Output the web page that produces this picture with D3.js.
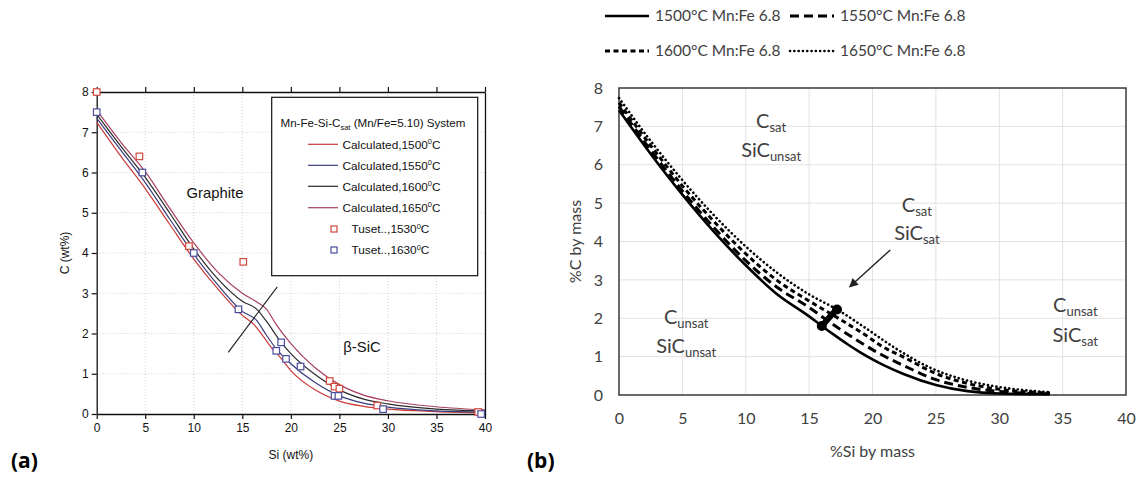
<!DOCTYPE html>
<html>
<head>
<meta charset="utf-8">
<script src="https://cdn.jsdelivr.net/npm/d3@7"></script>
<style>
  html, body { margin: 0; padding: 0; background: #fff; }
  svg { display: block; }
</style>
</head>
<body>
<svg id="fig" width="1138" height="477"></svg>
<script>
// ---------- Panel (a): Mn-Fe-Si-Csat, calculated vs. Tuset data ----------
const siTicksA = [0, 5, 10, 15, 20, 25, 30, 35, 40];
const cTicksA = [0, 1, 2, 3, 4, 5, 6, 7, 8];

const calc1500Si = [0, 2.5, 5, 7.5, 10, 12.5, 15, 16.2, 17, 18, 19, 20, 22.5, 25, 27.5, 30, 35, 40];
const calc1500C  = [7.25, 6.4, 5.6, 4.72, 3.85, 3.1, 2.45, 2.22, 1.98, 1.65, 1.38, 1.08, 0.6, 0.32, 0.19, 0.12, 0.06, 0.03];
const calc1550Si = [0, 2.5, 5, 7.5, 10, 12.5, 15, 16.5, 17.5, 18.5, 20, 22.5, 25, 27.5, 30, 35, 40];
const calc1550C  = [7.35, 6.55, 5.75, 4.85, 3.97, 3.2, 2.55, 2.32, 1.95, 1.62, 1.25, 0.78, 0.45, 0.27, 0.17, 0.08, 0.05];
const calc1600Si = [0, 2.5, 5, 7.5, 10, 12.5, 15, 16.5, 17.5, 19, 20, 22.5, 25, 27.5, 30, 35, 40];
const calc1600C  = [7.45, 6.65, 5.88, 5.0, 4.1, 3.35, 2.8, 2.6, 2.3, 1.78, 1.5, 0.98, 0.6, 0.37, 0.25, 0.12, 0.07];
const calc1650Si = [0, 2.5, 5, 7.5, 10, 12.5, 15, 16.5, 17.5, 18.5, 20, 22.5, 25, 27.5, 30, 35, 40];
const calc1650C  = [7.55, 6.75, 6.02, 5.12, 4.25, 3.52, 3.0, 2.78, 2.6, 2.22, 1.75, 1.15, 0.73, 0.47, 0.33, 0.18, 0.1];

const tuset1530Si = [0, 4.4, 9.5, 15.1, 24.0, 24.5, 25.0, 28.9, 39.3];
const tuset1530C  = [8.0, 6.4, 4.17, 3.78, 0.82, 0.68, 0.63, 0.21, 0.05];
const tuset1630Si = [0, 4.7, 10.0, 14.6, 18.5, 19.0, 19.5, 21.0, 24.5, 24.9, 29.5, 39.6];
const tuset1630C  = [7.5, 6.0, 4.0, 2.6, 1.57, 1.78, 1.37, 1.18, 0.45, 0.45, 0.12, 0.0];

// phase boundary stroke drawn across the curves
const boundarySiA = [13.55, 18.6];
const boundaryCA  = [1.53, 3.16];

const legendTitleA = ["Mn-Fe-Si-C", "sat", " (Mn/Fe=5.10) System"];
const calcLabelsA = ["Calculated,1500", "Calculated,1550", "Calculated,1600", "Calculated,1650"];
const tusetLabelsA = ["Tuset..,1530", "Tuset..,1630"];

// ---------- Panel (b): Mn:Fe 6.8 isotherms ----------
const siTicksB = [0, 5, 10, 15, 20, 25, 30, 35, 40];
const cTicksB = [0, 1, 2, 3, 4, 5, 6, 7, 8];

const iso1500Si = [0, 2.5, 5, 7.5, 10, 12.5, 15, 16, 17, 18, 19, 20, 21, 22.5, 25, 27.5, 30, 34];
const iso1500C  = [7.42, 6.28, 5.22, 4.25, 3.38, 2.62, 2.05, 1.8, 1.56, 1.33, 1.12, 0.93, 0.76, 0.54, 0.26, 0.1, 0.04, 0.02];
const iso1550Si = [0, 2.5, 5, 7.5, 10, 12.5, 15, 16.4, 17.5, 19, 20.6, 22.5, 25, 27.5, 30, 34];
const iso1550C  = [7.52, 6.38, 5.32, 4.36, 3.5, 2.8, 2.28, 1.95, 1.7, 1.38, 1.07, 0.76, 0.4, 0.2, 0.09, 0.03];
const iso1600Si = [0, 2.5, 5, 7.5, 10, 12.5, 15, 16.8, 18, 19.5, 20.6, 22.5, 25, 27.5, 30, 34];
const iso1600C  = [7.62, 6.5, 5.45, 4.52, 3.68, 2.98, 2.45, 2.1, 1.86, 1.55, 1.3, 0.98, 0.56, 0.3, 0.15, 0.05];
const iso1650Si = [0, 2.5, 5, 7.5, 10, 12.5, 15, 17.2, 19.3, 21.9, 24.5, 27.2, 29.8, 33.2, 34];
const iso1650C  = [7.74, 6.62, 5.6, 4.68, 3.87, 3.18, 2.62, 2.23, 1.78, 1.2, 0.72, 0.4, 0.22, 0.09, 0.07];

// double-saturation points (C and SiC both saturated)
const dsatSi = [16.0, 16.4, 16.8, 17.2];
const dsatC  = [1.8, 1.95, 2.1, 2.23];

// arrow pointing at the double-saturation line
const arrowSi = [21.4, 18.2];
const arrowC  = [3.78, 2.82];

const legendLabelsB = ["1500°C Mn:Fe 6.8", "1550°C Mn:Fe 6.8", "1600°C Mn:Fe 6.8", "1650°C Mn:Fe 6.8"];

// ---------------------------------------------------------------------------
const svg = d3.select("#fig");
const fontA = "'Liberation Sans', Arial, sans-serif";
const fontB = "Lato, 'Open Sans', sans-serif";

const zip = (xs, ys) => xs.map((x, i) => [x, ys[i]]);

/* ===================== Panel (a) ===================== */
const xA = d3.scaleLinear().domain([0, 40]).range([96.7, 485]);
const yA = d3.scaleLinear().domain([0, 8]).range([414, 92]);
const gA = svg.append("g");

// faint dotted grid
gA.append("g").selectAll("line").data(siTicksA.slice(1, -1)).join("line")
  .attr("x1", d => xA(d)).attr("x2", d => xA(d))
  .attr("y1", yA(0)).attr("y2", yA(8))
  .attr("stroke", "#c8c8c8").attr("stroke-width", 0.8).attr("stroke-dasharray", "1,2");
gA.append("g").selectAll("line").data(cTicksA.slice(1, -1)).join("line")
  .attr("x1", xA(0)).attr("x2", xA(40))
  .attr("y1", d => yA(d)).attr("y2", d => yA(d))
  .attr("stroke", "#c8c8c8").attr("stroke-width", 0.8).attr("stroke-dasharray", "1,2");

// axes
const styleAxisA = g => {
  g.select(".domain").attr("stroke", "#111").attr("stroke-width", 1.3);
  g.selectAll(".tick line").attr("stroke", "#111").attr("stroke-width", 1.2);
  g.selectAll(".tick text").attr("font-family", fontA).attr("font-size", 12).attr("fill", "#111");
};
gA.append("g").attr("transform", `translate(0,${yA(0)})`)
  .call(d3.axisBottom(xA).tickValues(siTicksA).tickSize(5).tickSizeOuter(0).tickPadding(4))
  .call(styleAxisA);
gA.append("g").attr("transform", `translate(0,${yA(8)})`)
  .call(d3.axisTop(xA).tickValues(siTicksA).tickSize(5).tickSizeOuter(0).tickFormat(""))
  .call(styleAxisA);
gA.append("g").attr("transform", `translate(${xA(0)},0)`)
  .call(d3.axisLeft(yA).tickValues(cTicksA).tickSize(5).tickSizeOuter(0).tickPadding(3))
  .call(styleAxisA);
gA.append("g").attr("transform", `translate(${xA(40)},0)`)
  .call(d3.axisRight(yA).tickValues(cTicksA).tickSize(0).tickSizeOuter(0).tickFormat(""))
  .call(styleAxisA);

// axis titles
gA.append("text").attr("x", (xA(0) + xA(40)) / 2).attr("y", 459)
  .attr("text-anchor", "middle").attr("font-family", fontA).attr("font-size", 12)
  .attr("fill", "#111").text("Si (wt%)");
gA.append("text").attr("transform", `translate(69,${yA(4)}) rotate(-90)`)
  .attr("text-anchor", "middle").attr("font-family", fontA).attr("font-size", 12)
  .attr("fill", "#111").text("C (wt%)");

// calculated curves
const calcSeries = [
  { si: calc1500Si, c: calc1500C, color: "#cc3a3a" },
  { si: calc1550Si, c: calc1550C, color: "#383d7c" },
  { si: calc1600Si, c: calc1600C, color: "#2b2b2b" },
  { si: calc1650Si, c: calc1650C, color: "#a6405e" }
];
const lineA = d3.line().x(d => xA(d[0])).y(d => yA(d[1])).curve(d3.curveMonotoneX);
gA.append("g").selectAll("path").data(calcSeries).join("path")
  .attr("d", s => lineA(zip(s.si, s.c)))
  .attr("fill", "none").attr("stroke", s => s.color).attr("stroke-width", 1.2);

// boundary stroke
gA.append("line")
  .attr("x1", xA(boundarySiA[0])).attr("y1", yA(boundaryCA[0]))
  .attr("x2", xA(boundarySiA[1])).attr("y2", yA(boundaryCA[1]))
  .attr("stroke", "#222").attr("stroke-width", 1.1);

// Tuset data squares
const sq = 6.5;
const tusetSeries = [
  { si: tuset1530Si, c: tuset1530C, color: "#d2473c" },
  { si: tuset1630Si, c: tuset1630C, color: "#4a4e9e" }
];
tusetSeries.forEach(s => {
  gA.append("g").selectAll("rect").data(zip(s.si, s.c)).join("rect")
    .attr("x", d => xA(d[0]) - sq / 2).attr("y", d => yA(d[1]) - sq / 2)
    .attr("width", sq).attr("height", sq)
    .attr("fill", "#fff").attr("stroke", s.color).attr("stroke-width", 1.2);
});

// region labels
gA.append("text").attr("x", 215).attr("y", 198).attr("text-anchor", "middle")
  .attr("font-family", fontA).attr("font-size", 14.8).attr("fill", "#111").text("Graphite");
gA.append("text").attr("x", 362).attr("y", 352).attr("text-anchor", "middle")
  .attr("font-family", fontA).attr("font-size", 14.8).attr("fill", "#111").text("β-SiC");

// legend box
const legA = gA.append("g");
legA.append("rect").attr("x", 271.7).attr("y", 97.3).attr("width", 206).attr("height", 178.4)
  .attr("fill", "#fff").attr("stroke", "#111").attr("stroke-width", 1.2);
const ttl = legA.append("text").attr("x", 280.5).attr("y", 127)
  .attr("font-family", fontA).attr("font-size", 11.6).attr("fill", "#111");
ttl.append("tspan").text(legendTitleA[0]);
ttl.append("tspan").attr("font-size", 7.5).attr("dy", 2.5).text(legendTitleA[1]);
ttl.append("tspan").attr("dy", -2.5).text(legendTitleA[2]);

const rowY = [144.3, 165.3, 186.3, 207.7, 229, 250];
calcSeries.forEach((s, i) => {
  legA.append("line").attr("x1", 308).attr("x2", 338).attr("y1", rowY[i]).attr("y2", rowY[i])
    .attr("stroke", s.color).attr("stroke-width", 1.2);
  const t = legA.append("text").attr("x", 342.5).attr("y", rowY[i] + 4.2)
    .attr("font-family", fontA).attr("font-size", 11.8).attr("fill", "#111");
  t.append("tspan").text(calcLabelsA[i]);
  t.append("tspan").attr("font-size", 7.5).attr("dy", -4.5).text("0");
  t.append("tspan").attr("dy", 4.5).text("C");
});
tusetSeries.forEach((s, i) => {
  const yy = rowY[4 + i];
  legA.append("rect").attr("x", 334 - 3).attr("y", yy - 3).attr("width", 6).attr("height", 6)
    .attr("fill", "#fff").attr("stroke", s.color).attr("stroke-width", 1.2);
  const t = legA.append("text").attr("x", 351.5).attr("y", yy + 4.2)
    .attr("font-family", fontA).attr("font-size", 11.8).attr("fill", "#111");
  t.append("tspan").text(tusetLabelsA[i]);
  t.append("tspan").attr("font-size", 7.5).attr("dy", -4.5).text("0");
  t.append("tspan").attr("dy", 4.5).text("C");
});

// panel tag
svg.append("text").attr("x", 11).attr("y", 468).attr("font-family", "'Open Sans', Lato, sans-serif")
  .attr("font-weight", "bold").attr("font-size", 21).attr("fill", "#000").text("(a)");

/* ===================== Panel (b) ===================== */
const xB = d3.scaleLinear().domain([0, 40]).range([619, 1126]);
const yB = d3.scaleLinear().domain([0, 8]).range([395, 88]);
const gB = svg.append("g");

// light grid
gB.append("g").selectAll("line").data(siTicksB.slice(1, -1)).join("line")
  .attr("x1", d => xB(d)).attr("x2", d => xB(d)).attr("y1", yB(0)).attr("y2", yB(8))
  .attr("stroke", "#e1e1e1").attr("stroke-width", 1);
gB.append("g").selectAll("line").data(cTicksB.slice(1, -1)).join("line")
  .attr("x1", xB(0)).attr("x2", xB(40)).attr("y1", d => yB(d)).attr("y2", d => yB(d))
  .attr("stroke", "#e1e1e1").attr("stroke-width", 1);

const styleAxisB = g => {
  g.select(".domain").remove();
  g.selectAll(".tick line").remove();
  g.selectAll(".tick text").attr("font-family", fontB).attr("font-size", 16).attr("fill", "#404040");
};
gB.append("g").attr("transform", `translate(0,${yB(0)})`)
  .call(d3.axisBottom(xB).tickValues(siTicksB).tickSize(0).tickPadding(18))
  .call(styleAxisB);
gB.append("g").attr("transform", `translate(${xB(0)},0)`)
  .call(d3.axisLeft(yB).tickValues(cTicksB).tickSize(0).tickPadding(16))
  .call(styleAxisB);

// plot frame
gB.append("rect").attr("x", xB(0)).attr("y", yB(8))
  .attr("width", xB(40) - xB(0)).attr("height", yB(0) - yB(8))
  .attr("fill", "none").attr("stroke", "#3a3a3a").attr("stroke-width", 1.5);

// axis titles
gB.append("text").attr("x", (xB(0) + xB(40)) / 2).attr("y", 457).attr("text-anchor", "middle")
  .attr("font-family", fontB).attr("font-size", 16).attr("fill", "#404040").text("%Si by mass");
gB.append("text").attr("transform", `translate(581,${(yB(0) + yB(8)) / 2}) rotate(-90)`)
  .attr("text-anchor", "middle").attr("font-family", fontB).attr("font-size", 16)
  .attr("fill", "#404040").text("%C by mass");

// isotherms
const isoSeries = [
  { si: iso1500Si, c: iso1500C, dash: null,   width: 2.6, cap: "butt" },
  { si: iso1550Si, c: iso1550C, dash: "9,5",  width: 3.0, cap: "butt" },
  { si: iso1600Si, c: iso1600C, dash: "5,3.5", width: 3.0, cap: "butt" },
  { si: iso1650Si, c: iso1650C, dash: "0.1,4.2", width: 2.6, cap: "round" }
];
const lineB = d3.line().x(d => xB(d[0])).y(d => yB(d[1])).curve(d3.curveMonotoneX);
gB.append("g").selectAll("path").data(isoSeries).join("path")
  .attr("d", s => lineB(zip(s.si, s.c)))
  .attr("fill", "none").attr("stroke", "#000")
  .attr("stroke-width", s => s.width).attr("stroke-linecap", s => s.cap)
  .attr("stroke-dasharray", s => s.dash);

// double-saturation line and markers
const dsat = zip(dsatSi, dsatC);
gB.append("path").attr("d", d3.line().x(d => xB(d[0])).y(d => yB(d[1]))(dsat))
  .attr("fill", "none").attr("stroke", "#000").attr("stroke-width", 6).attr("stroke-linecap", "round");
gB.append("g").selectAll("circle").data([dsat[0], dsat[dsat.length - 1]]).join("circle")
  .attr("cx", d => xB(d[0])).attr("cy", d => yB(d[1])).attr("r", 5).attr("fill", "#000");

// arrow
svg.append("defs").append("marker").attr("id", "head")
  .attr("viewBox", "0 0 10 10").attr("refX", 9).attr("refY", 5)
  .attr("markerWidth", 9).attr("markerHeight", 9).attr("markerUnits", "userSpaceOnUse")
  .attr("orient", "auto")
  .append("path").attr("d", "M0,0 L10,5 L0,10 Z").attr("fill", "#222");
gB.append("line")
  .attr("x1", xB(arrowSi[0])).attr("y1", yB(arrowC[0]))
  .attr("x2", xB(arrowSi[1])).attr("y2", yB(arrowC[1]))
  .attr("stroke", "#222").attr("stroke-width", 1.4).attr("marker-end", "url(#head)");

// region annotations
function phaseLabel(si, c, main, sub) {
  const t = gB.append("text").attr("x", xB(si)).attr("y", yB(c)).attr("text-anchor", "middle")
    .attr("font-family", fontB).attr("font-size", 20).attr("fill", "#404040");
  t.append("tspan").text(main);
  t.append("tspan").attr("font-size", 13).attr("dy", 4).text(sub);
}
phaseLabel(12.0, 6.95, "C", "sat");
phaseLabel(12.0, 6.2, "SiC", "unsat");
phaseLabel(23.5, 4.78, "C", "sat");
phaseLabel(23.5, 4.03, "SiC", "sat");
phaseLabel(5.3, 1.85, "C", "unsat");
phaseLabel(5.3, 1.1, "SiC", "unsat");
phaseLabel(36.0, 2.15, "C", "unsat");
phaseLabel(36.0, 1.38, "SiC", "sat");

// legend (two rows, two columns)
const legB = gB.append("g").attr("font-family", fontB).attr("font-size", 15.5).attr("fill", "#404040");
const legPos = [[605, 21], [790, 21], [605, 56], [790, 56]];
isoSeries.forEach((s, i) => {
  const [lx, ly] = legPos[i];
  legB.append("line").attr("x1", lx).attr("x2", lx + 44).attr("y1", ly - 5).attr("y2", ly - 5)
    .attr("stroke", "#000").attr("stroke-width", s.width).attr("stroke-linecap", s.cap)
    .attr("stroke-dasharray", s.dash);
  legB.append("text").attr("x", lx + 50).attr("y", ly).text(legendLabelsB[i]);
});

// panel tag
svg.append("text").attr("x", 527).attr("y", 468).attr("font-family", "'Open Sans', Lato, sans-serif")
  .attr("font-weight", "bold").attr("font-size", 21).attr("fill", "#000").text("(b)");
</script>
</body>
</html>
